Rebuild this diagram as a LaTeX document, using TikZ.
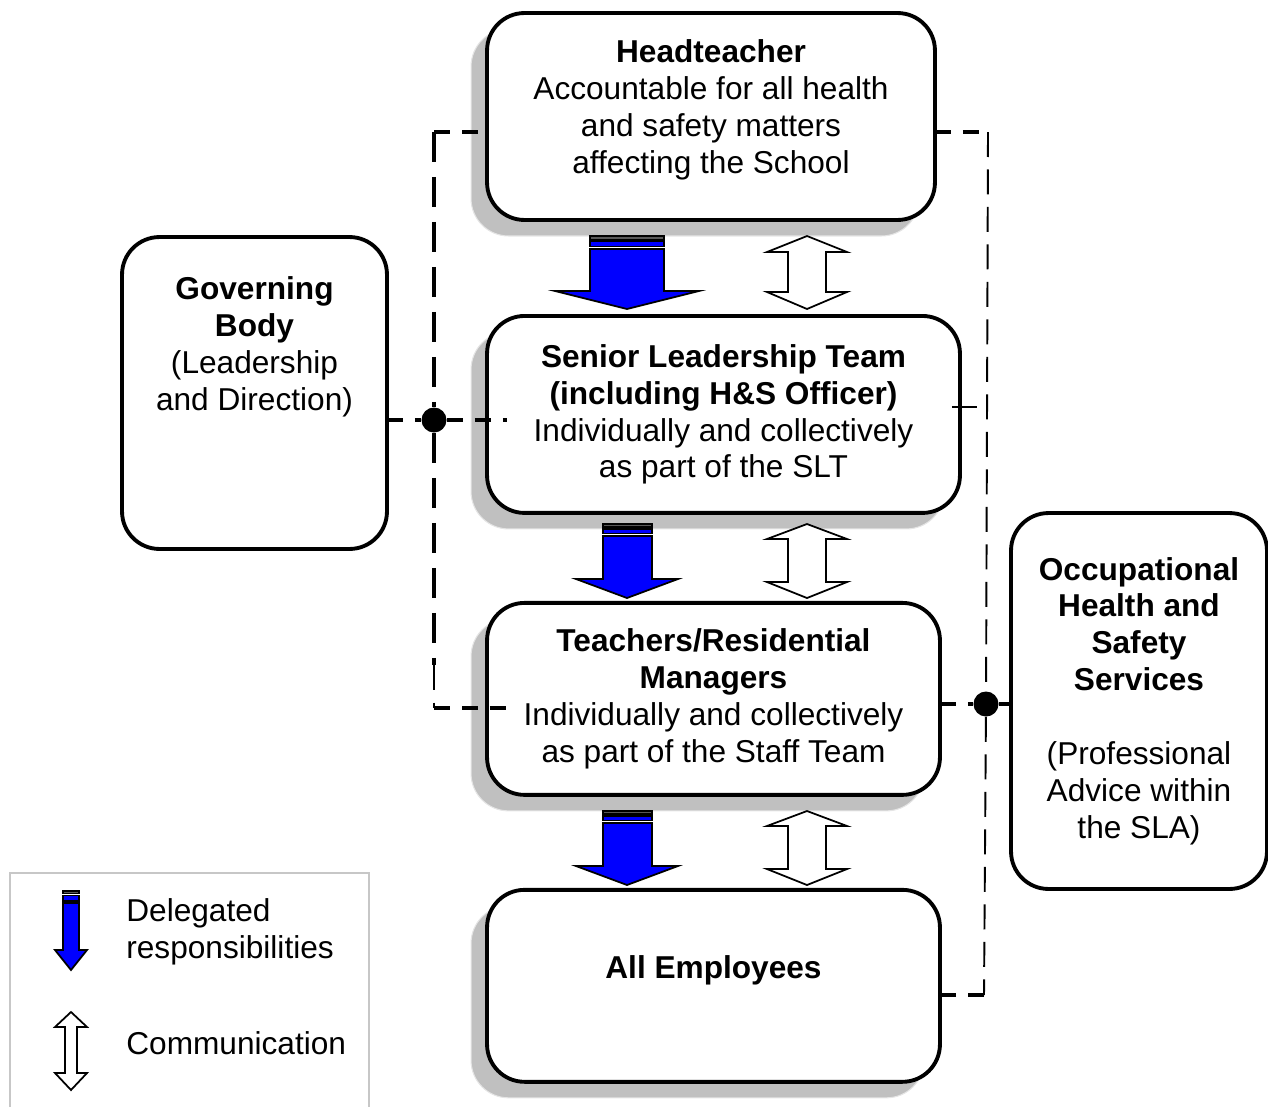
\documentclass[tikz,border=0pt]{standalone}
\usepackage{fontspec}
\setmainfont{Liberation Sans}
\usetikzlibrary{positioning,shadows}
\definecolor{shadowgray}{HTML}{C0C0C0}
\definecolor{arrowblue}{HTML}{0000FF}

\begin{document}
\begin{tikzpicture}[
  x=0.02cm, y=-0.02cm,
  every node/.style={font=\fontsize{18}{21}\selectfont},
  role/.style={draw, line width=2.2pt, rounded corners=0.75cm, align=center, fill=white, inner sep=2pt, outer sep=0pt},
  shadowed/.style={drop shadow={shadow xshift=-0.32cm, shadow yshift=-0.32cm, opacity=1, fill=shadowgray, draw=black!10, line width=0.6pt}},
  linkh/.style={line width=2.2pt, dash pattern=on 0.32cm off 0.24cm},
  linkv/.style={line width=2.4pt, dash pattern=on 0.6cm off 0.3cm},
  linkthin/.style={line width=1.1pt, dash pattern=on 0.5cm off 0.25cm},
  junction/.style={circle, fill, inner sep=0pt, minimum size=0.5cm},
  delegated/.style={draw, line width=1pt, fill=arrowblue},
  comm/.style={draw, line width=1pt, fill=white},
  legendbox/.style={draw=black!22, line width=1pt, minimum width=7.18cm, minimum height=4.84cm}
]
\useasboundingbox (0,0) rectangle (1268,1106);

% chain of responsibility
\node[role, shadowed, minimum width=8.96cm, minimum height=4.14cm] (head) at (711,116.5)
  {\textbf{Headteacher}\\Accountable for all health\\and safety matters\\affecting the School\\[-10pt]\mbox{}};
\node[role, shadowed, minimum width=9.46cm, minimum height=3.94cm, below=1.92cm of head.south west, anchor=north west] (slt)
  {\textbf{Senior Leadership Team}\\\textbf{(including H\&S Officer)}\\Individually and collectively\\as part of the SLT};
\node[role, shadowed, minimum width=9.06cm, minimum height=3.84cm, below=1.8cm of slt.south west, anchor=north west] (teach)
  {\textbf{Teachers/Residential}\\\textbf{Managers}\\Individually and collectively\\as part of the Staff Team};
\node[role, shadowed, minimum width=9.06cm, minimum height=3.84cm, below=1.9cm of teach.south west, anchor=north west] (emp)
  {\textbf{All Employees}\\\mbox{}};

% side bodies
\node[role, minimum width=5.3cm, minimum height=6.24cm] (gov) at (254.5,393)
  {\textbf{Governing}\\\textbf{Body}\\(Leadership\\and Direction)\\[35pt]\mbox{}};
\node[role, minimum width=5.12cm, minimum height=7.52cm] (occ) at (1139,701)
  {\textbf{Occupational}\\\textbf{Health and}\\\textbf{Safety}\\\textbf{Services}\\[21pt](Professional\\Advice within\\the SLA)};

% key
\node[legendbox] (legend) at (189.5,994) {};
\node[anchor=west, align=left, inner sep=0pt] (deltext) at (126,932) {Delegated\\responsibilities};
\node[anchor=west, inner sep=0pt] (commtext) at (126,1043) {Communication};

% delegation arrows
\draw[delegated] (590,249) -- (664,249) -- (664,291) -- (699,291) -- (627,309) -- (555,291) -- (590,291) -- cycle;
\draw[delegated, fill=black!65] (590,236) rectangle (664,239.5);
\draw[delegated] (590,241) rectangle (664,246.5);
\foreach \dy in {0,287} {
  \draw[delegated] (603,536+\dy) -- (652,536+\dy) -- (652,579+\dy) -- (678,579+\dy) -- (627,598+\dy) -- (576,579+\dy) -- (603,579+\dy) -- cycle;
  \draw[delegated, fill=black!65] (603,524+\dy) rectangle (652,527+\dy);
  \draw[delegated] (603,529+\dy) rectangle (652,533.5+\dy);
}
\draw[delegated] (63,903) -- (79,903) -- (79,950) -- (87,950) -- (71,970) -- (55,950) -- (63,950) -- cycle;
\draw[delegated, fill=black!65] (63,891) rectangle (79,893.5);
\draw[delegated] (63,895.5) rectangle (79,901);

% two-way communication arrows
\foreach \ya/\yb/\yc/\yd in {236/252/292/309, 524/539/582/598, 811/826/869/885}
  \draw[comm] (807,\ya) -- (847,\yb) -- (826,\yb) -- (826,\yc) -- (847,\yc) -- (807,\yd)
    -- (767,\yc) -- (788,\yc) -- (788,\yb) -- (767,\yb) -- cycle;
\draw[comm] (71,1012) -- (87,1027) -- (77,1027) -- (77,1073) -- (87,1073) -- (71,1090)
  -- (55,1073) -- (65,1073) -- (65,1027) -- (55,1027) -- cycle;

% governors' links
\node[junction] (dotL) at (434,420) {};
\coordinate (lt) at (434,132);
\coordinate (lm) at (434,665);
\coordinate (lb) at (434,708);
\draw[linkh] (lt) -- ([xshift=-0.14cm]head.west |- lt);
\draw[linkv] (lt) -- (dotL) -- (lm);
\draw[linkthin] (lm) -- (lb);
\draw[linkh] (lb) -- ([xshift=0.4cm]teach.west |- lb);
\draw[linkh] (gov.east |- dotL) -- (dotL) -- ([xshift=0.4cm]slt.west |- dotL);

% occupational health links
\node[junction] (dotR) at (986,704) {};
\coordinate (rt) at (988,132);
\coordinate (rb) at (984,995);
\coordinate (sltlink) at (0,407);
\draw[linkh] (head.east |- rt) -- (rt);
\draw[linkthin] (rt) -- (dotR) -- (rb);
\draw[linkh] (rb) -- (emp.east |- rb);
\draw[linkthin] ([xshift=-0.16cm]slt.east |- sltlink) -- (rt |- sltlink);
\draw[linkh] (teach.east |- dotR) -- (dotR) -- (occ.west |- dotR);
\end{tikzpicture}
\end{document}
